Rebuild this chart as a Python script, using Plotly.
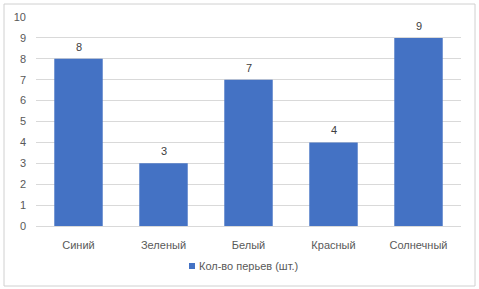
import plotly.graph_objects as go

categories = ["Синий", "Зеленый", "Белый", "Красный", "Солнечный"]
values = [8, 3, 7, 4, 9]
series_name = "Кол-во перьев (шт.)"
y_ticks = list(range(0, 11))

W, H = 479, 289
ml, mr, mt, mb = 36, 18, 17, 63
pw, ph = W - ml - mr, H - mt - mb

def px_x(x):
    return (x - ml) / pw

def px_y(y):
    return (H - mb - y) / ph

fig = go.Figure()
fig.add_trace(go.Bar(
    x=categories, y=values, name=series_name,
    marker=dict(color="#4472C4", line=dict(width=0)),
    width=0.57, showlegend=False,
))
for c, v in zip(categories, values):
    fig.add_annotation(x=c, y=v, text=str(v), showarrow=False, yshift=12,
                       font=dict(size=11, color="#404040"))

# legend (square key + label)
fig.add_annotation(xref="paper", yref="paper", x=px_x(197), y=px_y(265.5),
                   xanchor="left", yanchor="middle", text=series_name, showarrow=False,
                   font=dict(size=11, color="#595959"))

fig.update_layout(
    width=W, height=H,
    margin=dict(l=ml, r=mr, t=mt, b=mb, autoexpand=False),
    paper_bgcolor="white", plot_bgcolor="white",
    font=dict(family="Liberation Sans", size=11, color="#595959"),
    showlegend=False,
    xaxis=dict(showgrid=False, showline=True, linecolor="#d9d9d9", linewidth=1,
               ticks="", ticklabelstandoff=9, tickfont=dict(size=11, color="#595959"),
               automargin=False),
    yaxis=dict(range=[0, 10], tickvals=y_ticks, showgrid=True, gridcolor="#d9d9d9",
               gridwidth=1, zeroline=False, showline=False, ticks="",
               ticklabelstandoff=9, automargin=False,
               tickfont=dict(size=11, color="#595959")),
    shapes=[
        dict(type="rect", xref="paper", yref="paper",
             x0=px_x(4), x1=px_x(475), y0=px_y(286), y1=px_y(4),
             line=dict(color="#d0d0d0", width=1), layer="below"),
        dict(type="rect", xref="paper", yref="paper",
             x0=px_x(189), x1=px_x(195), y0=px_y(269), y1=px_y(263),
             fillcolor="#4472C4", line=dict(width=0)),
    ],
)

fig.write_html("out.html", config={"displayModeBar": False},
               post_script="document.body.style.margin='0';")
